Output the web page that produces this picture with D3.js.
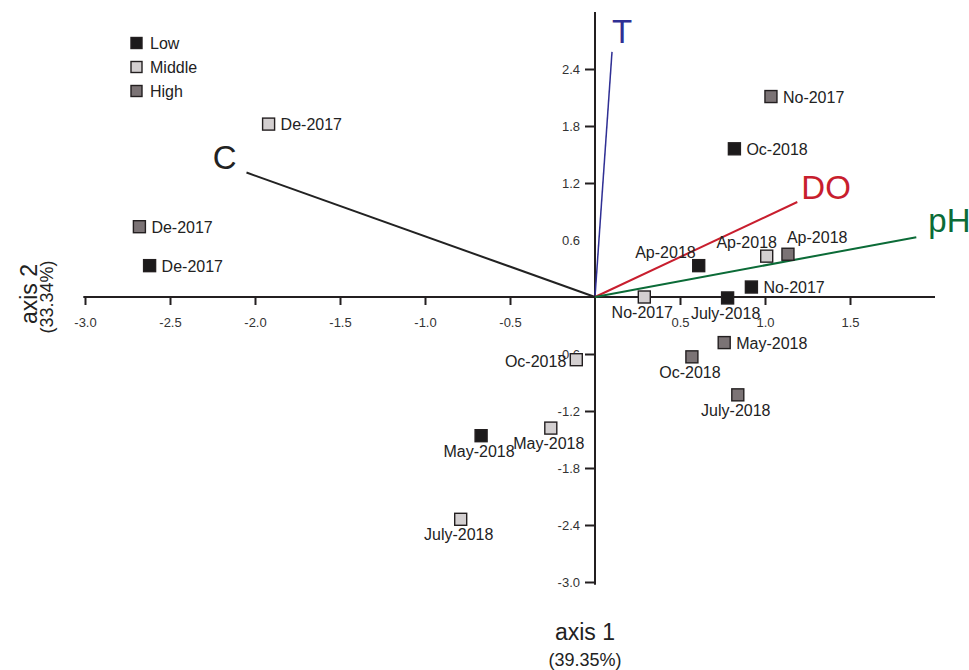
<!DOCTYPE html>
<html><head><meta charset="utf-8">
<script src="https://cdn.jsdelivr.net/npm/d3@7"></script>
<style>
body{margin:0;background:#fff;}
text{font-family:"Liberation Sans",Arial,Helvetica,sans-serif;}
</style></head>
<body><svg id="c" width="969" height="670"></svg>
<script>
// ---- data ----
const groups = ["Low", "Middle", "High"];
const groupFill = {Low:"#1c1a1b", Middle:"#d3cfd0", High:"#7b7375"};
const pointLabels = ["De-2017","De-2017","De-2017","No-2017","Oc-2018","Ap-2018","Ap-2018","Ap-2018","No-2017","No-2017","July-2018","May-2018","Oc-2018","July-2018","Oc-2018","May-2018","May-2018","July-2018"];
const pointGroups = ["Middle","High","Low","High","Low","Low","Middle","High","Low","Middle","Low","High","High","High","Middle","Middle","Low","Middle"];
const axis1Values = [-1.92,-2.68,-2.62,1.035,0.82,0.61,1.01,1.135,0.92,0.29,0.78,0.76,0.57,0.84,-0.11,-0.26,-0.67,-0.79];
const axis2Values = [1.82,0.74,0.33,2.11,1.56,0.33,0.43,0.45,0.105,0.0,-0.01,-0.48,-0.63,-1.03,-0.66,-1.38,-1.46,-2.34];
const labelPlacement = ["right","right","right","right","right","aboveleft","above","aboveright","right","below","below","right","below","below","left","below","below","below"];
const vectorNames = ["T","DO","pH","C"];
const vectorX = [0.10,1.19,1.89,-2.05];
const vectorY = [2.58,1.00,0.63,1.31];
const vectorColors = ["#2f2f94","#c81e2e","#0b6b37","#222222"];
const xTicks = [-3.0,-2.5,-2.0,-1.5,-1.0,-0.5,0.5,1.0,1.5];
const yTicks = [2.4,1.8,1.2,0.6,-0.6,-1.2,-1.8,-2.4,-3.0];
const axis1Title = "axis 1", axis1Pct = "(39.35%)";
const axis2Title = "axis 2", axis2Pct = "(33.34%)";

// ---- chart ----
const svg = d3.select("#c");
const x = d3.scaleLinear().domain([-3,1.5]).range([85,850]);
const y = d3.scaleLinear().domain([-3,2.4]).range([582,69]);
const ink = "#231f20";
const fmt = d => d3.format(".1f")(d).replace("\u2212","-");

// axis lines
svg.append("line").attr("x1",x(-3.01)).attr("x2",x(2.0)).attr("y1",y(0)).attr("y2",y(0))
  .attr("stroke",ink).attr("stroke-width",2);
svg.append("line").attr("x1",x(0)).attr("x2",x(0)).attr("y1",y(3.0)).attr("y2",y(-3.03))
  .attr("stroke",ink).attr("stroke-width",2);

const xa = svg.append("g").attr("transform",`translate(0,${y(0)})`)
  .call(d3.axisBottom(x).tickValues(xTicks).tickFormat(fmt).tickSize(8).tickPadding(13));
xa.select(".domain").remove();
xa.selectAll(".tick line").attr("stroke",ink).attr("stroke-width",2);
xa.selectAll(".tick text").attr("font-size",13).attr("fill","#333")
  .attr("font-family","Liberation Sans, Arial, sans-serif");

const ya = svg.append("g").attr("transform",`translate(${x(0)},0)`)
  .call(d3.axisLeft(y).tickValues(yTicks).tickFormat(fmt).tickSize(10).tickPadding(5));
ya.select(".domain").remove();
ya.selectAll(".tick line").attr("stroke",ink).attr("stroke-width",2)
  .attr("display",d=>d===0.6?"none":null);
ya.selectAll(".tick text").attr("font-size",13).attr("fill","#333")
  .attr("font-family","Liberation Sans, Arial, sans-serif");

// vectors
const vecs = vectorNames.map((n,i)=>({n,vx:vectorX[i],vy:vectorY[i],c:vectorColors[i]}));
svg.selectAll(".vec").data(vecs).enter().append("line")
  .attr("x1",x(0)).attr("y1",y(0)).attr("x2",d=>x(d.vx)).attr("y2",d=>y(d.vy))
  .attr("stroke",d=>d.c).attr("stroke-width",d=>d.n==="T"?1.5:2);
const vlab = {T:[0,-9,"start"],DO:[4,-3,"start"],pH:[12,-5,"start"],C:[-10,-4,"end"]};
svg.selectAll(".vlab").data(vecs).enter().append("text")
  .attr("x",d=>x(d.vx)+vlab[d.n][0]).attr("y",d=>y(d.vy)+vlab[d.n][1])
  .attr("text-anchor",d=>vlab[d.n][2])
  .attr("font-size",33).attr("fill",d=>d.c).text(d=>d.n);

// points
const pts = pointLabels.map((l,i)=>({l,g:pointGroups[i],px:axis1Values[i],py:axis2Values[i],p:labelPlacement[i]}));
const sq = 12;
svg.selectAll(".pt").data(pts).enter().append("rect")
  .attr("x",d=>x(d.px)-sq/2).attr("y",d=>y(d.py)-sq/2).attr("width",sq).attr("height",sq)
  .attr("fill",d=>groupFill[d.g]).attr("stroke",ink).attr("stroke-width",1.4);
const place = {
  right:[12,6,"start"], left:[-10,7,"end"], below:[-2,21,"middle"],
  above:[-20,-8,"middle"], aboveleft:[-3,-8,"end"], aboveright:[-1,-11,"start"]
};
svg.selectAll(".pl").data(pts).enter().append("text")
  .attr("x",d=>x(d.px)+place[d.p][0]).attr("y",d=>y(d.py)+place[d.p][1])
  .attr("text-anchor",d=>place[d.p][2]).attr("font-size",16).attr("fill","#222").text(d=>d.l);

// legend
const lg = svg.append("g");
groups.forEach((g,i)=>{
  const cy = 43 + i*24;
  lg.append("rect").attr("x",131).attr("y",cy-5.5).attr("width",11).attr("height",11)
    .attr("fill",groupFill[g]).attr("stroke",ink).attr("stroke-width",1.4);
  lg.append("text").attr("x",150).attr("y",cy+6).attr("font-size",16).attr("fill","#222").text(g);
});

// axis titles
svg.append("text").attr("x",585).attr("y",640).attr("text-anchor","middle").attr("font-size",23).attr("fill","#222").text(axis1Title);
svg.append("text").attr("x",585).attr("y",666).attr("text-anchor","middle").attr("font-size",18).attr("fill","#222").text(axis1Pct);
svg.append("text").attr("transform","translate(37,294) rotate(-90)").attr("text-anchor","middle").attr("font-size",23).attr("fill","#222").text(axis2Title);
svg.append("text").attr("transform","translate(53,297) rotate(-90)").attr("text-anchor","middle").attr("font-size",18).attr("fill","#222").text(axis2Pct);
</script></body></html>
